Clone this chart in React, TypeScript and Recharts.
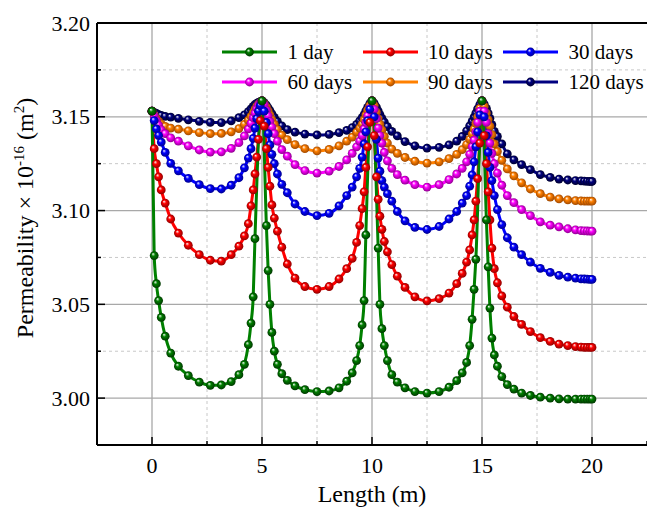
import React from "react";
import { LineChart, Line, XAxis, YAxis, CartesianGrid, Legend } from "recharts";

// positions along the sample (m)
const length = [
  0, 0.1, 0.2, 0.3, 0.42, 0.6, 0.85, 1.2, 1.65, 2.15, 2.65, 3.15, 3.6, 3.95, 4.2, 4.38, 4.5, 4.6, 4.68, 4.76, 4.84, 4.92, 5,
  5.1, 5.2, 5.28, 5.36, 5.45, 5.56, 5.7, 5.9, 6.15, 6.5, 6.95, 7.5, 8.05, 8.5, 8.85, 9.1, 9.3, 9.44, 9.55, 9.64, 9.72, 9.8, 9.9, 10,
  10.1, 10.2, 10.28, 10.36, 10.45, 10.56, 10.7, 10.9, 11.15, 11.5, 11.95, 12.5, 13.05, 13.5, 13.85, 14.1, 14.3, 14.44, 14.55, 14.64, 14.72, 14.8, 14.9, 15,
  15.1, 15.2, 15.28, 15.36, 15.45, 15.56, 15.7, 15.9, 16.15, 16.45, 16.8, 17.2, 17.65, 18.1, 18.5, 18.9, 19.25, 19.5, 19.65, 19.78, 19.9, 20,
];

// 1 day has no samples on the steep flanks of the peaks
const day1 = [
  3.153, 3.076, 3.061, 3.052, 3.043, 3.033, 3.024, 3.017, 3.012, 3.0085, 3.0068, 3.007, 3.0088, 3.0125, 3.018, 3.0285, 3.04, 3.054, 3.085, null, null, null, 3.1585,
  null, 3.092, 3.068, 3.05, 3.035, 3.025, 3.018, 3.013, 3.0095, 3.0065, 3.0045, 3.0035, 3.0038, 3.0055, 3.009, 3.0135, 3.02, 3.028, 3.039, 3.052, 3.087, null, null, 3.1585,
  null, null, 3.08, 3.05, 3.037, 3.028, 3.02, 3.0125, 3.0085, 3.0055, 3.0035, 3.0027, 3.0035, 3.0058, 3.0093, 3.0135, 3.019, 3.028, 3.042, 3.058, 3.074, null, null, 3.1585,
  null, 3.095, 3.07, 3.048, 3.032, 3.023, 3.017, 3.0115, 3.0072, 3.0048, 3.0027, 3.0014, 3.0005, 3.0, 2.9996, 2.9995, 2.9995, 2.9995, 2.9995, 2.9995, 2.9995, 2.9995,
];

const day10 = [
  3.153, 3.133, 3.125, 3.118, 3.111, 3.104, 3.0955, 3.088, 3.0815, 3.0765, 3.0735, 3.073, 3.0765, 3.081, 3.0865, 3.093, 3.1025, 3.111, 3.1195, 3.1285, 3.138, 3.148, 3.1585,
  3.145, 3.133, 3.123, 3.113, 3.103, 3.096, 3.089, 3.0805, 3.0715, 3.064, 3.0595, 3.058, 3.0595, 3.0635, 3.069, 3.0745, 3.083, 3.092, 3.101, 3.11, 3.123, 3.134, 3.147, 3.1585,
  3.14, 3.118, 3.106, 3.097, 3.09, 3.0835, 3.078, 3.0712, 3.065, 3.059, 3.054, 3.0518, 3.053, 3.056, 3.061, 3.0665, 3.0725, 3.079, 3.087, 3.095, 3.105, 3.117, 3.136, 3.1585,
  3.14, 3.125, 3.11, 3.095, 3.08, 3.069, 3.0615, 3.0545, 3.0485, 3.0435, 3.0393, 3.0355, 3.0322, 3.0302, 3.0288, 3.028, 3.0275, 3.0272, 3.0271, 3.027, 3.027, 3.027,
];

const day30 = [
  3.153, 3.148, 3.1435, 3.14, 3.1365, 3.131, 3.1252, 3.1212, 3.1172, 3.1138, 3.1117, 3.1115, 3.1135, 3.1175, 3.1228, 3.128, 3.133, 3.1385, 3.144, 3.149, 3.153, 3.156, 3.1585,
  3.153, 3.147, 3.141, 3.135, 3.13, 3.125, 3.1195, 3.114, 3.1095, 3.1035, 3.0995, 3.0973, 3.0985, 3.1025, 3.108, 3.1125, 3.118, 3.1225, 3.1285, 3.1355, 3.142, 3.148, 3.154, 3.1585,
  3.15, 3.138, 3.128, 3.121, 3.116, 3.1125, 3.109, 3.105, 3.0995, 3.0945, 3.091, 3.0899, 3.0915, 3.0955, 3.0995, 3.104, 3.108, 3.113, 3.119, 3.126, 3.134, 3.142, 3.151, 3.1585,
  3.15, 3.14, 3.131, 3.123, 3.116, 3.108, 3.1005, 3.0925, 3.0855, 3.0805, 3.0765, 3.0725, 3.0692, 3.067, 3.0654, 3.0645, 3.064, 3.0636, 3.0635, 3.0634, 3.0633, 3.0633,
];

const day60 = [
  3.153, 3.1505, 3.148, 3.1455, 3.143, 3.141, 3.1388, 3.137, 3.1345, 3.1323, 3.1312, 3.1313, 3.1332, 3.1362, 3.1398, 3.1435, 3.1465, 3.1495, 3.152, 3.1545, 3.1563, 3.1575, 3.1585,
  3.1565, 3.1535, 3.1505, 3.1475, 3.1445, 3.141, 3.137, 3.1325, 3.129, 3.1245, 3.1213, 3.12, 3.121, 3.1235, 3.127, 3.1305, 3.134, 3.137, 3.14, 3.1435, 3.147, 3.1505, 3.1545, 3.1585,
  3.154, 3.149, 3.144, 3.14, 3.136, 3.131, 3.1265, 3.1225, 3.1192, 3.1162, 3.1138, 3.1125, 3.1138, 3.1165, 3.1195, 3.1225, 3.126, 3.13, 3.134, 3.1375, 3.142, 3.147, 3.153, 3.1585,
  3.153, 3.147, 3.141, 3.136, 3.1305, 3.125, 3.12, 3.1135, 3.108, 3.1042, 3.1005, 3.0973, 3.094, 3.0922, 3.0913, 3.0903, 3.0897, 3.0893, 3.0892, 3.0891, 3.089, 3.089,
];

const day90 = [
  3.153, 3.151, 3.149, 3.1475, 3.1462, 3.1449, 3.144, 3.1434, 3.1425, 3.1416, 3.141, 3.1411, 3.142, 3.1437, 3.146, 3.1482, 3.1502, 3.1522, 3.154, 3.1555, 3.1567, 3.1575, 3.1585,
  3.157, 3.1552, 3.1532, 3.151, 3.1485, 3.146, 3.1432, 3.1402, 3.1378, 3.1352, 3.133, 3.1318, 3.1326, 3.1345, 3.137, 3.1392, 3.1418, 3.144, 3.146, 3.1485, 3.151, 3.1535, 3.156, 3.1585,
  3.156, 3.1525, 3.149, 3.146, 3.143, 3.1395, 3.136, 3.1328, 3.1305, 3.1283, 3.1263, 3.1253, 3.126, 3.1277, 3.13, 3.1325, 3.1352, 3.138, 3.1408, 3.1435, 3.1465, 3.15, 3.1545, 3.1585,
  3.1555, 3.152, 3.1485, 3.145, 3.1405, 3.1355, 3.1315, 3.1268, 3.1222, 3.1185, 3.1148, 3.1115, 3.109, 3.1072, 3.1062, 3.1057, 3.1053, 3.1051, 3.105, 3.105, 3.105, 3.105,
];

const day120 = [
  3.153, 3.1524, 3.1518, 3.1512, 3.1507, 3.1502, 3.1498, 3.1492, 3.1484, 3.1476, 3.147, 3.1469, 3.1478, 3.1495, 3.151, 3.1527, 3.1542, 3.1555, 3.1565, 3.1572, 3.1577, 3.158, 3.1585,
  3.1575, 3.1562, 3.1548, 3.1533, 3.1515, 3.1497, 3.1475, 3.1452, 3.1432, 3.1418, 3.1408, 3.1403, 3.1406, 3.1415, 3.1427, 3.1442, 3.146, 3.1478, 3.1495, 3.1512, 3.1532, 3.155, 3.157, 3.1585,
  3.1572, 3.1552, 3.1532, 3.1512, 3.1492, 3.1472, 3.1448, 3.1422, 3.1398, 3.1368, 3.1345, 3.1333, 3.1337, 3.135, 3.137, 3.1395, 3.1425, 3.1452, 3.1475, 3.1498, 3.152, 3.1542, 3.1565, 3.1585,
  3.1568, 3.1545, 3.152, 3.1492, 3.1458, 3.1422, 3.1395, 3.1355, 3.1302, 3.127, 3.1245, 3.1218, 3.1192, 3.1177, 3.1168, 3.1163, 3.116, 3.1158, 3.1157, 3.1156, 3.1155, 3.1155,
];

const xTicks = [0, 2.5, 5, 7.5, 10, 12.5, 15, 17.5, 20, 22.5];
const yTicks = [3.0, 3.025, 3.05, 3.075, 3.1, 3.125, 3.15, 3.175, 3.2];
const xMajor = [0, 5, 10, 15, 20];
const xMinor = [2.5, 7.5, 12.5, 17.5];
const yMajor = [3.0, 3.05, 3.1, 3.15];
const yMinor = [3.025, 3.075, 3.125, 3.175];

const legendOrder = ["1 day", "10 days", "30 days", "60 days", "90 days", "120 days"];

// drawn back to front: 120 days first, 1 day last (on top)
const series = [
  { key: "d120", name: "120 days", color: "#000080", dark: "#000030", values: day120 },
  { key: "d90", name: "90 days", color: "#ff8000", dark: "#a04800", values: day90 },
  { key: "d60", name: "60 days", color: "#ff00ff", dark: "#900090", values: day60 },
  { key: "d30", name: "30 days", color: "#0000ff", dark: "#000090", values: day30 },
  { key: "d10", name: "10 days", color: "#ff0000", dark: "#900000", values: day10 },
  { key: "d1", name: "1 day", color: "#008000", dark: "#003800", values: day1 },
];

const rows = length.map((x, i) => {
  const r: Record<string, number | null> = { x };
  series.forEach((s) => (r[s.key] = s.values[i]));
  return r;
});

const FONT = "Liberation Serif";

const isMajor = (v: number, step: number) => Math.abs(v / step - Math.round(v / step)) < 1e-6;

const XTick = ({ x, y, payload }: any) => {
  const major = isMajor(payload.value, 5);
  return (
    <g>
      <line x1={x} x2={x} y1={y} y2={y - (major ? 8 : 4)} stroke="#000" strokeWidth={1.5} />
      {major && (
        <text x={x} y={y + 27.5} textAnchor="middle" fontSize={22} fontFamily={FONT} fill="#000">
          {payload.value}
        </text>
      )}
    </g>
  );
};

const YTick = ({ x, y, payload }: any) => {
  const major = isMajor(payload.value, 0.05);
  return (
    <g>
      <line x1={x} x2={x + (major ? 8 : 4)} y1={y} y2={y} stroke="#000" strokeWidth={1.5} />
      {major && (
        <text x={x - 7} y={y + 7.5} textAnchor="end" fontSize={22} fontFamily={FONT} fill="#000">
          {payload.value.toFixed(2)}
        </text>
      )}
    </g>
  );
};

const makeDot = (key: string) => (p: any) => {
  if (p.cx == null || p.cy == null || p.value == null) return <g key={p.index} />;
  return <circle key={p.index} cx={p.cx} cy={p.cy} r={4.4} fill={`url(#ball-${key})`} />;
};

const LegendBox = ({ payload }: any) => {
  const items = [...(payload || [])].sort(
    (a: any, b: any) => legendOrder.indexOf(a.value) - legendOrder.indexOf(b.value)
  );
  return (
    <div
      style={{
        display: "grid",
        gridTemplateColumns: "140.5px 140.5px 140.5px",
        fontFamily: FONT,
        fontSize: 21,
        color: "#000",
      }}
    >
      {items.map((it: any) => (
        <div key={it.value} style={{ display: "flex", alignItems: "center", height: 30, whiteSpace: "nowrap" }}>
          <svg width={55} height={12} style={{ overflow: "visible", flex: "none" }}>
            <line x1={0} y1={6} x2={55} y2={6} stroke={it.color} strokeWidth={3} />
            <circle cx={27.5} cy={6} r={4.4} fill={`url(#ball-${it.dataKey})`} />
          </svg>
          <span style={{ marginLeft: 10.5, lineHeight: "30px" }}>{it.value}</span>
        </div>
      ))}
    </div>
  );
};

export default function App() {
  return (
    <div style={{ position: "absolute", left: 0, top: 0, width: 647, height: 507, background: "#fff" }}>
      <LineChart width={647} height={507} data={rows} margin={{ top: 23, right: 0, bottom: 0, left: 0 }}>
        <defs>
          {series.map((s) => (
            <radialGradient key={s.key} id={`ball-${s.key}`} cx="50%" cy="50%" r="50%" fx="35%" fy="30%">
              <stop offset="0%" stopColor="#ffffff" />
              <stop offset="40%" stopColor={s.color} />
              <stop offset="100%" stopColor={s.dark} />
            </radialGradient>
          ))}
        </defs>
        <CartesianGrid
          horizontalValues={yMinor}
          verticalValues={xMinor}
          stroke="#c8c8c8"
          strokeDasharray="3 3"
          strokeWidth={1}
          syncWithTicks={false}
        />
        <CartesianGrid
          horizontalValues={yMajor}
          verticalValues={xMajor}
          stroke="#a8a8a8"
          strokeWidth={1.3}
          syncWithTicks={false}
        />
        <CartesianGrid horizontalValues={[3.2]} vertical={false} stroke="#000" strokeWidth={2} />
        <XAxis
          type="number"
          dataKey="x"
          domain={[-2.5, 22.5]}
          ticks={xTicks}
          interval={0}
          allowDataOverflow
          height={62}
          tickSize={0}
          tickMargin={0}
          tick={<XTick />}
          axisLine={{ stroke: "#000", strokeWidth: 2 }}
          tickLine={false}
          label={{
            content: () => (
              <text x={372} y={502} textAnchor="middle" fontSize={24} fontFamily={FONT} fill="#000">
                Length (m)
              </text>
            ),
          }}
        />
        <YAxis
          type="number"
          domain={[2.975, 3.2]}
          ticks={yTicks}
          interval={0}
          allowDataOverflow
          width={97}
          tickSize={0}
          tickMargin={0}
          tick={<YTick />}
          axisLine={{ stroke: "#000", strokeWidth: 2 }}
          tickLine={false}
          label={{
            content: () => (
              <text
                x={33}
                y={218}
                transform="rotate(-90, 33, 218)"
                textAnchor="middle"
                fontSize={24}
                fontFamily={FONT}
                fill="#000"
              >
                Permeability × 10
                <tspan dy={-9} fontSize={15}>-16</tspan>
                <tspan dy={9}> (m</tspan>
                <tspan dy={-9} fontSize={15}>2</tspan>
                <tspan dy={9}>)</tspan>
              </text>
            ),
          }}
        />
        <Legend
          layout="vertical"
          align="center"
          verticalAlign="middle"
          wrapperStyle={{ top: 37, left: 222, width: 425 }}
          content={(props: any) => <LegendBox {...props} />}
        />
        {series.map((s) => (
          <Line
            key={s.key}
            type="monotone"
            dataKey={s.key}
            name={s.name}
            stroke={s.color}
            strokeWidth={3}
            connectNulls
            dot={makeDot(s.key)}
            activeDot={false}
            isAnimationActive={false}
          />
        ))}
      </LineChart>
    </div>
  );
}
